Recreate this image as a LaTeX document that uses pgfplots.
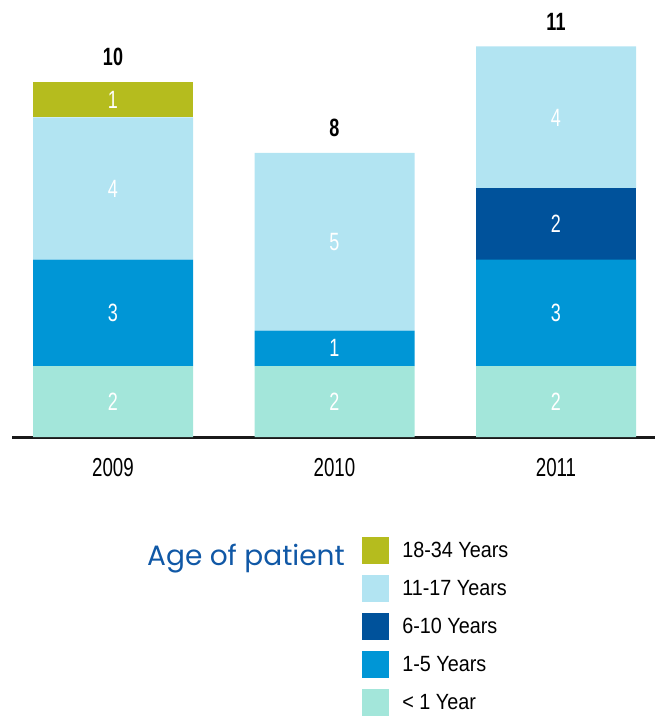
\documentclass[border=0pt]{standalone}
\usepackage{pgfplots}
\pgfplotsset{compat=1.18}
\usepackage{pgfplotstable}
\usepackage{fontspec}
\setmainfont[FakeStretch=0.72]{Liberation Sans}
\newfontfamily\legfont[FakeStretch=0.9]{Liberation Sans}
\newfontfamily\agefont{Poppins}
\definecolor{cA}{HTML}{A3E6DA}
\definecolor{cB}{HTML}{0096D6}
\definecolor{cC}{HTML}{00529B}
\definecolor{cD}{HTML}{B2E4F2}
\definecolor{cE}{HTML}{B5BC1E}
\definecolor{titleblue}{HTML}{1058A6}
% values per age group (stacked from bottom: <1, 1-5, 6-10, 11-17, 18-34)
\pgfplotstableread{
x lt1 y15 y610 y1117 y1834 tot
0 2 3 0 4 1 10
1 2 1 0 5 0 8
2 2 3 2 4 0 11
}\data
\pgfplotsset{
  geom/.style={width=643pt, height=437pt, scale only axis,
    xmin=-0.456, xmax=2.447, ymin=0, ymax=12.31, clip=false,
    /pgf/number format/assume math mode=true},
  seg/.style={fill=#1, draw=none,
    legend image code/.code={\fill[#1] (0pt,-13.5pt) rectangle (27pt,13.5pt);}},
  lab/.style={draw=none, mark=none, point meta=explicit,
    nodes near coords={\pgfmathfloatifflags{\pgfplotspointmeta}{0}{}{\pgfmathprintnumber{\pgfplotspointmeta}}},
    nodes near coords style={text=white, anchor=center, inner sep=0pt,
      font=\fontsize{25}{30}\selectfont}},
}
\begin{document}
\begin{tikzpicture}
\begin{axis}[
  name=ax, geom,
  ybar stacked, bar width=160pt,
  axis x line=bottom, axis y line=none,
  x axis line style={line width=3pt,-, color=black!90},
  xtick={0,1,2}, xticklabels={2009,2010,2011},
  major tick length=0pt,
  xticklabel style={font=\fontsize{26}{30}\selectfont, anchor=base, yshift=-39pt, inner sep=0pt},
  legend style={at={(rel axis cs:0.5445,-0.229)}, anchor=north west,
    draw=none, fill=none, inner sep=0pt, row sep=11pt,
    font=\legfont\fontsize{22}{26}\selectfont,
    /tikz/every odd column/.append style={column sep=11pt}},
  legend cell align=left,
  reverse legend,
]
\addplot[seg=cA] table[x=x, y=lt1] \data;
\addlegendentry{< 1 Year}
\addplot[seg=cB] table[x=x, y=y15] \data;
\addlegendentry{1-5 Years}
\addplot[seg=cC] table[x=x, y=y610] \data;
\addlegendentry{6-10 Years}
\addplot[seg=cD] table[x=x, y=y1117] \data;
\addlegendentry{11-17 Years}
\addplot[seg=cE] table[x=x, y=y1834] \data;
\addlegendentry{18-34 Years}
\node[anchor=base west, inner sep=0pt, text=titleblue, font=\agefont\fontsize{28}{33}\selectfont,
  xshift=135pt, yshift=-128pt]
  at (rel axis cs:0,0) {Age of patient};
\end{axis}
% overlaid axis with the same geometry for the value labels
\begin{axis}[geom, hide axis]
\addplot[lab] table[x=x, y expr=\thisrow{lt1}/2, meta=lt1] \data;
\addplot[lab] table[x=x, y expr=\thisrow{lt1}+\thisrow{y15}/2, meta=y15] \data;
\addplot[lab] table[x=x, y expr=\thisrow{lt1}+\thisrow{y15}+\thisrow{y610}/2, meta=y610] \data;
\addplot[lab] table[x=x, y expr=\thisrow{lt1}+\thisrow{y15}+\thisrow{y610}+\thisrow{y1117}/2, meta=y1117] \data;
\addplot[lab] table[x=x, y expr=\thisrow{lt1}+\thisrow{y15}+\thisrow{y610}+\thisrow{y1117}+\thisrow{y1834}/2, meta=y1834] \data;
\addplot[draw=none, mark=none, point meta=explicit,
  nodes near coords={\pgfmathprintnumber{\pgfplotspointmeta}},
  nodes near coords style={text=black, anchor=base, inner sep=0pt,
    yshift=16pt, font=\fontsize{25}{30}\selectfont\bfseries}]
  table[x=x, y=tot, meta=tot] \data;
\end{axis}
\pgfresetboundingbox
\path ([xshift=-12pt,yshift=-279pt]ax.south west) rectangle ([xshift=0pt,yshift=0pt]ax.north east);
\end{tikzpicture}
\end{document}
